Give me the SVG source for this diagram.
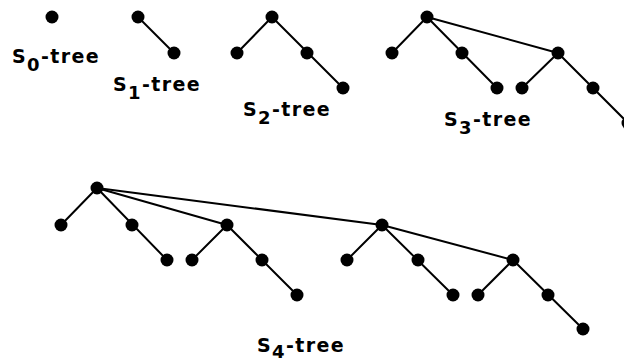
<svg xmlns="http://www.w3.org/2000/svg" width="624" height="362" viewBox="0 0 624 362">
<style>
.e{stroke:#000;stroke-width:2;fill:none;stroke-linecap:round}
.n{fill:#000}
.l{font-family:"DejaVu Sans",sans-serif;font-weight:bold;font-size:19px;letter-spacing:1.4px;fill:#000}
.s{font-size:18px}
</style>
<rect width="624" height="362" fill="#fff"/>
<g id="connectors" class="e">
<line x1="138" y1="17" x2="174" y2="53"/>
<line x1="272" y1="17" x2="237" y2="53"/>
<line x1="272" y1="17" x2="343" y2="88"/>
<line x1="427" y1="17" x2="392" y2="53"/>
<line x1="427" y1="17" x2="497" y2="88"/>
<line x1="427" y1="17" x2="558" y2="53"/>
<line x1="558" y1="53" x2="522" y2="88"/>
<line x1="558" y1="53" x2="628" y2="123"/>
<line x1="97" y1="188" x2="61" y2="225"/>
<line x1="97" y1="188" x2="167" y2="260"/>
<line x1="97" y1="188" x2="227" y2="225"/>
<line x1="97" y1="188" x2="382" y2="225"/>
<line x1="227" y1="225" x2="192" y2="260"/>
<line x1="227" y1="225" x2="297" y2="295"/>
<line x1="382" y1="225" x2="347" y2="260"/>
<line x1="382" y1="225" x2="453" y2="295"/>
<line x1="382" y1="225" x2="513" y2="260"/>
<line x1="513" y1="260" x2="478" y2="295"/>
<line x1="513" y1="260" x2="583" y2="329"/>
</g>
<g id="s0-root"><circle class="n" cx="52" cy="17" r="6.5"/></g>
<g id="s1-root"><circle class="n" cx="138" cy="17" r="6.5"/></g>
<g id="s1-a"><circle class="n" cx="174" cy="53" r="6.5"/></g>
<g id="s2-root"><circle class="n" cx="272" cy="17" r="6.5"/></g>
<g id="s2-a"><circle class="n" cx="237" cy="53" r="6.5"/></g>
<g id="s2-b"><circle class="n" cx="307" cy="53" r="6.5"/></g>
<g id="s2-c"><circle class="n" cx="343" cy="88" r="6.5"/></g>
<g id="s3-root"><circle class="n" cx="427" cy="17" r="6.5"/></g>
<g id="s3-a"><circle class="n" cx="392" cy="53" r="6.5"/></g>
<g id="s3-b"><circle class="n" cx="462" cy="53" r="6.5"/></g>
<g id="s3-c"><circle class="n" cx="497" cy="88" r="6.5"/></g>
<g id="s3-d"><circle class="n" cx="558" cy="53" r="6.5"/></g>
<g id="s3-e"><circle class="n" cx="522" cy="88" r="6.5"/></g>
<g id="s3-f"><circle class="n" cx="593" cy="88" r="6.5"/></g>
<g id="s3-g"><circle class="n" cx="628" cy="123" r="6.5"/></g>
<g id="s4-root"><circle class="n" cx="97" cy="188" r="6.5"/></g>
<g id="s4-b"><circle class="n" cx="61" cy="225" r="6.5"/></g>
<g id="s4-c"><circle class="n" cx="132" cy="225" r="6.5"/></g>
<g id="s4-d"><circle class="n" cx="167" cy="260" r="6.5"/></g>
<g id="s4-e"><circle class="n" cx="227" cy="225" r="6.5"/></g>
<g id="s4-f"><circle class="n" cx="192" cy="260" r="6.5"/></g>
<g id="s4-g"><circle class="n" cx="262" cy="260" r="6.5"/></g>
<g id="s4-h"><circle class="n" cx="297" cy="295" r="6.5"/></g>
<g id="s4-i"><circle class="n" cx="382" cy="225" r="6.5"/></g>
<g id="s4-j"><circle class="n" cx="347" cy="260" r="6.5"/></g>
<g id="s4-k"><circle class="n" cx="418" cy="260" r="6.5"/></g>
<g id="s4-l"><circle class="n" cx="453" cy="295" r="6.5"/></g>
<g id="s4-m"><circle class="n" cx="513" cy="260" r="6.5"/></g>
<g id="s4-n"><circle class="n" cx="478" cy="295" r="6.5"/></g>
<g id="s4-o"><circle class="n" cx="548" cy="295" r="6.5"/></g>
<g id="s4-p"><circle class="n" cx="583" cy="329" r="6.5"/></g>
<g id="labels">
<text class="l" x="12" y="63">S<tspan class="s" dy="8">0</tspan><tspan dy="-8">-tree</tspan></text>
<text class="l" x="113" y="91">S<tspan class="s" dy="8">1</tspan><tspan dy="-8">-tree</tspan></text>
<text class="l" x="243" y="116">S<tspan class="s" dy="8">2</tspan><tspan dy="-8">-tree</tspan></text>
<text class="l" x="444" y="126">S<tspan class="s" dy="8">3</tspan><tspan dy="-8">-tree</tspan></text>
<text class="l" x="257" y="352">S<tspan class="s" dy="6">4</tspan><tspan dy="-6">-tree</tspan></text>
</g>
</svg>
